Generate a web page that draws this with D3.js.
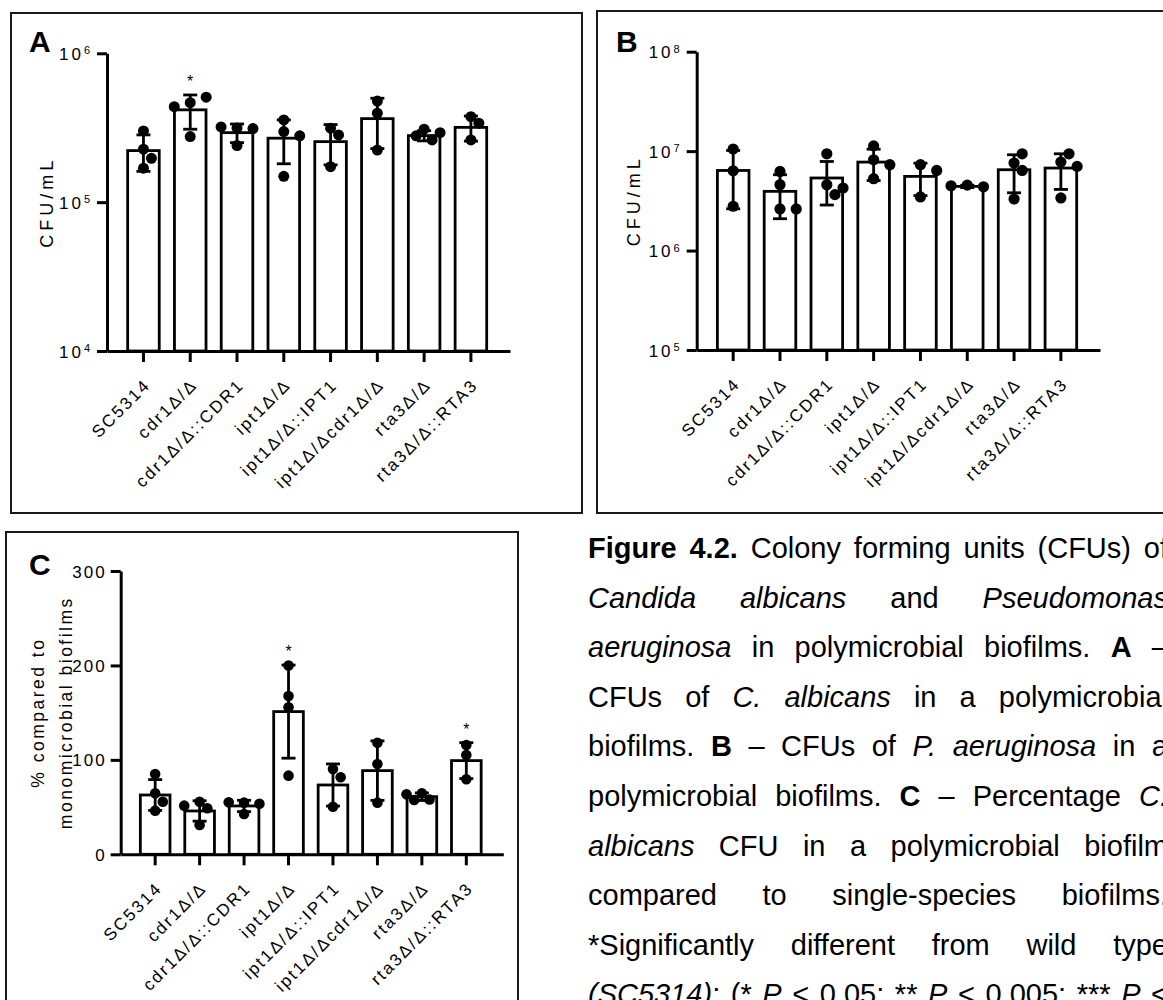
<!DOCTYPE html>
<html>
<head>
<meta charset="utf-8">
<script src="https://cdn.jsdelivr.net/npm/d3@7"></script>
<style>
  html, body { margin: 0; padding: 0; background: #fff; }
  svg { display: block; }
  text { font-family: "Liberation Sans", Arial, Helvetica, sans-serif; fill: #000; }
</style>
</head>
<body>
<svg id="fig" width="1163" height="1000"></svg>
<script>
// ---- strains (shared x categories) ----
const categories = ["SC5314", "cdr1Δ/Δ", "cdr1Δ/Δ::CDR1", "ipt1Δ/Δ", "ipt1Δ/Δ::IPT1",
                    "ipt1Δ/Δcdr1Δ/Δ", "rta3Δ/Δ", "rta3Δ/Δ::RTA3"];

// ---- A: C. albicans CFU/mL in polymicrobial biofilms ----
const meanA = [2.22e5, 4.17e5, 2.93e5, 2.69e5, 2.55e5, 3.64e5, 2.80e5, 3.18e5];
const sdA   = [0.61e5, 1.08e5, 0.42e5, 0.88e5, 0.77e5, 1.35e5, 0.22e5, 0.61e5];
const pointsA = [
  [3.01e5, 2.27e5, 1.97e5, 1.69e5],
  [4.66e5, 5.07e5, 4.38e5, 2.76e5],
  [3.15e5, 3.12e5, 3.20e5, 2.40e5],
  [2.98e5, 3.57e5, 2.79e5, 1.49e5],
  [3.14e5, 2.83e5, 1.73e5],
  [4.78e5, 3.96e5, 2.24e5],
  [3.09e5, 2.93e5, 2.79e5, 2.62e5],
  [3.75e5, 3.39e5, 2.62e5]
];
const sigA = ["", "*", "", "", "", "", "", ""];
const ticksA = [1e4, 1e5, 1e6];

// ---- B: P. aeruginosa CFU/mL in polymicrobial biofilms ----
const meanB = [6.39e6, 3.94e6, 5.37e6, 7.76e6, 5.57e6, 4.42e6, 6.50e6, 6.76e6];
const sdB   = [3.76e6, 1.85e6, 2.50e6, 2.70e6, 2.00e6, 0.12e6, 2.69e6, 2.64e6];
const pointsB = [
  [1.05e7, 6.35e6, 2.79e6],
  [6.25e6, 4.60e6, 2.62e6, 2.62e6],
  [9.40e6, 4.60e6, 4.26e6, 3.65e6],
  [1.13e7, 8.19e6, 7.30e6, 5.28e6],
  [7.30e6, 6.39e6, 3.46e6],
  [4.55e6, 4.38e6, 4.48e6],
  [7.59e6, 9.40e6, 6.39e6, 3.30e6],
  [7.76e6, 9.40e6, 7.02e6, 3.38e6]
];
const sigB = ["", "", "", "", "", "", "", ""];
const ticksB = [1e5, 1e6, 1e7, 1e8];

// ---- C: % C. albicans CFU relative to monomicrobial biofilms ----
const meanC = [62.8, 45.9, 51.2, 151.1, 73.4, 88.6, 61.0, 99.2];
const sdC   = [16.3, 10.8, 6.0, 49.3, 22.3, 31.5, 4.0, 19.0];
const pointsC = [
  [85.1, 64.6, 55.7, 46.2],
  [55.7, 48.7, 51.5, 31.0],
  [54.7, 53.5, 55.0, 42.7],
  [199.8, 167.7, 155.7, 83.3],
  [90.4, 81.6, 50.4],
  [118.2, 95.7, 54.7],
  [64.6, 58.0, 63.5, 57.5],
  [115.8, 105.2, 79.4]
];
const sigC = ["", "", "", "*", "", "", "", "*"];
const ticksC = [0, 100, 200, 300];

// ---- caption (each word: plain string, or [text, style] segments) ----
const B = t => [[t, "b"]];
const I = t => [[t, "i"]];
const captionLines = [
  [B("Figure"), B("4.2."), "Colony", "forming", "units", "(CFUs)", "of"],
  [I("Candida"), I("albicans"), "and", I("Pseudomonas")],
  [I("aeruginosa"), "in", "polymicrobial", "biofilms.", B("A"), "–"],
  ["CFUs", "of", I("C."), I("albicans"), "in", "a", "polymicrobial"],
  ["biofilms.", B("B"), "–", "CFUs", "of", I("P."), I("aeruginosa"), "in", "a"],
  ["polymicrobial", "biofilms.", B("C"), "–", "Percentage", I("C.")],
  [I("albicans"), "CFU", "in", "a", "polymicrobial", "biofilm"],
  ["compared", "to", "single-species", "biofilms."],
  ["*Significantly", "different", "from", "wild", "type"],
  [[["(SC5314)", "i"], [";", ""]], "(*", I("P"), "<", "0.05;", "**", I("P"), "<", "0.005;", "***", I("P"), "<"]
];

const svg = d3.select("#fig");

// panel frames
const frames = [
  { x: 11, y: 13, w: 571, h: 500 },
  { x: 597, y: 11, w: 600, h: 502 },
  { x: 6, y: 532, w: 512, h: 520 }
];
svg.selectAll("rect.frame").data(frames).join("rect")
  .attr("class", "frame")
  .attr("x", d => d.x).attr("y", d => d.y)
  .attr("width", d => d.w).attr("height", d => d.h)
  .attr("fill", "none").attr("stroke", "#1a1a1a").attr("stroke-width", 2);

// horizontal spread of replicate dots so they do not overlap
function swarm(ys, r) {
  const placed = [];
  const step = r * 1.45;
  return ys.map(yv => {
    for (let k = 0; k < 30; k++) {
      const off = k === 0 ? 0 : (k % 2 ? 1 : -1) * Math.ceil(k / 2) * step;
      if (placed.every(q => Math.hypot(q[0] - off, q[1] - yv) >= 2 * r * 0.9)) {
        placed.push([off, yv]);
        return off;
      }
    }
    return 0;
  });
}

const LW = 2.8;

function drawPanel(p) {
  const g = svg.append("g");
  const y = (p.log ? d3.scaleLog() : d3.scaleLinear())
    .domain(p.domain).range([p.yBottom, p.yTop]);
  const x = d3.scaleBand().domain(categories)
    .range([p.x0, p.x1]).paddingInner(p.padIn).paddingOuter(0.47).align(0.47);
  const base = p.domain[0];
  const cx = d => x(d) + x.bandwidth() / 2;

  // bars
  g.append("g").selectAll("rect").data(categories).join("rect")
    .attr("x", d => x(d)).attr("width", x.bandwidth())
    .attr("y", (d, i) => y(p.mean[i]))
    .attr("height", (d, i) => y(base) - y(p.mean[i]))
    .attr("fill", "#fff").attr("stroke", "#000").attr("stroke-width", LW);

  // replicate dots
  const r = p.r;
  const dots = [];
  categories.forEach((c, i) => {
    const ys = p.points[i].map(v => y(v));
    const offs = swarm(ys, r);
    ys.forEach((yy, j) => dots.push({ x: cx(c) + offs[j], y: yy }));
  });
  g.append("g").selectAll("circle").data(dots).join("circle")
    .attr("cx", d => d.x).attr("cy", d => d.y).attr("r", r).attr("fill", "#000");

  // mean ± SD
  const eb = g.append("g").attr("stroke", "#000").attr("stroke-width", LW);
  categories.forEach((c, i) => {
    const hi = y(p.mean[i] + p.sd[i]);
    const lo = y(p.mean[i] - p.sd[i]);
    const xc = cx(c), cw = 7;
    eb.append("line").attr("x1", xc).attr("x2", xc).attr("y1", hi).attr("y2", lo);
    eb.append("line").attr("x1", xc - cw).attr("x2", xc + cw).attr("y1", hi).attr("y2", hi);
    eb.append("line").attr("x1", xc - cw).attr("x2", xc + cw).attr("y1", lo).attr("y2", lo);
    if (p.sig[i]) {
      g.append("text").attr("x", xc).attr("y", hi - 8)
        .attr("text-anchor", "middle").style("font-size", "16px").text(p.sig[i]);
    }
  });

  // y axis
  const yAxis = g.append("g").attr("transform", `translate(${p.x0},0)`)
    .call(d3.axisLeft(y).tickValues(p.ticks).tickSize(10).tickSizeOuter(0)
      .tickPadding(p.log ? 7 : 4).tickFormat(() => ""));
  yAxis.selectAll("text").each(function (d) {
    const t = d3.select(this).style("font-size", "17px").attr("dy", "0.36em");
    if (p.log) {
      t.append("tspan").style("letter-spacing", "3px").text("10");
      t.append("tspan").attr("dy", "-0.5em").style("font-size", "11px")
        .text(String(Math.round(Math.log10(d))));
    } else {
      t.style("letter-spacing", "2px").text(d3.format("d")(d));
    }
  });

  // x axis with rotated strain labels
  const xAxis = g.append("g").attr("transform", `translate(0,${p.yBottom})`)
    .call(d3.axisBottom(x).tickSize(11).tickSizeOuter(0));
  xAxis.selectAll("text")
    .attr("x", 0).attr("y", 0).attr("dy", 0)
    .attr("transform", "translate(8,35) rotate(-45)")
    .style("text-anchor", "end").style("font-size", "17px").style("letter-spacing", "2.2px");

  [yAxis, xAxis].forEach(a => {
    a.select(".domain").attr("stroke", "#000").attr("stroke-width", 3);
    a.selectAll(".tick line").attr("stroke", "#000").attr("stroke-width", 3);
  });

  // y title
  const cyT = (p.yTop + p.yBottom) / 2;
  p.title.forEach((line, k) => {
    g.append("text")
      .attr("transform", `translate(${p.titleX[k]},${cyT}) rotate(-90)`)
      .attr("text-anchor", "middle")
      .style("font-size", p.titleFS).style("letter-spacing", p.titleLS)
      .text(line);
  });

  // panel letter
  g.append("text").attr("x", p.lx).attr("y", p.ly)
    .style("font-size", "30px").style("font-weight", "bold").text(p.label);
}

drawPanel({
  label: "A", lx: 29, ly: 52, log: true, domain: [1e4, 1e6], ticks: ticksA,
  x0: 107, x1: 510, yTop: 53.3, yBottom: 351, padIn: 0.325, r: 5.5,
  mean: meanA, sd: sdA, points: pointsA, sig: sigA,
  title: ["CFU/mL"], titleX: [53], titleFS: "18px", titleLS: "4px"
});
drawPanel({
  label: "B", lx: 616, ly: 52, log: true, domain: [1e5, 1e8], ticks: ticksB,
  x0: 696.7, x1: 1100, yTop: 51.7, yBottom: 350, padIn: 0.325, r: 5.6,
  mean: meanB, sd: sdB, points: pointsB, sig: sigB,
  title: ["CFU/mL"], titleX: [640], titleFS: "18px", titleLS: "4px"
});
drawPanel({
  label: "C", lx: 29, ly: 575, log: false, domain: [0, 300], ticks: ticksC,
  x0: 120.7, x1: 503.3, yTop: 571, yBottom: 854.3, padIn: 0.333, r: 5.3,
  mean: meanC, sd: sdC, points: pointsC, sig: sigC,
  title: ["% compared to", "monomicrobial biofilms"], titleX: [44, 72],
  titleFS: "17.5px", titleLS: "2.5px"
});

// ---- justified caption ----
const capX0 = 588, capX1 = 1168, capY0 = 558, capLH = 49.6;
const cap = svg.append("g").style("font-size", "29px");
captionLines.forEach((words, li) => {
  const yB = capY0 + li * capLH;
  const nodes = words.map(w => {
    const segs = typeof w === "string" ? [[w, ""]] : w;
    const t = cap.append("text").attr("y", yB);
    segs.forEach(([s, st]) => {
      const ts = t.append("tspan").text(s);
      if (st === "b") ts.style("font-weight", "bold");
      if (st === "i") ts.style("font-style", "italic");
    });
    return t;
  });
  const widths = nodes.map(n => n.node().getComputedTextLength());
  const total = d3.sum(widths);
  const gap = (capX1 - capX0 - total) / Math.max(1, nodes.length - 1);
  let xx = capX0;
  nodes.forEach((n, k) => { n.attr("x", xx); xx += widths[k] + gap; });
});
</script>
</body>
</html>
